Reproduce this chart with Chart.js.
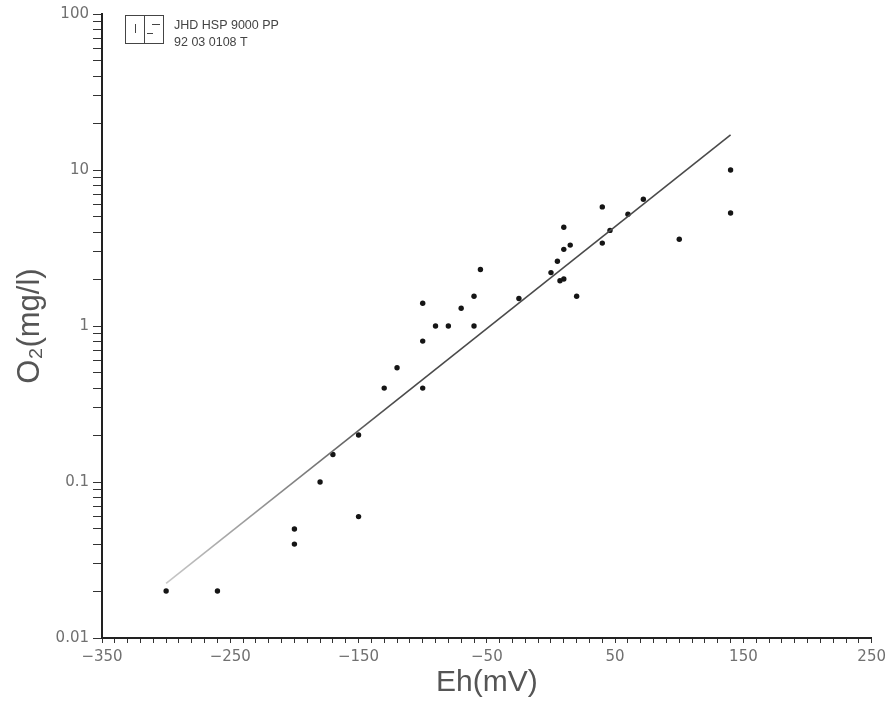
<!DOCTYPE html>
<html>
<head>
<meta charset="utf-8">
<title>O2 vs Eh</title>
<script src="https://cdn.jsdelivr.net/npm/chart.js@4.4.1/dist/chart.umd.min.js"></script>
<style>
  html, body { margin: 0; padding: 0; background: #fff; }
  #wrap { position: relative; width: 891px; height: 701px; }
</style>
</head>
<body>
<div id="wrap"><canvas id="o2Chart"></canvas></div>
<script>
// measured samples: redox potential (mV) and dissolved oxygen (mg/l)
const ehValues = [-300, -260, -200, -200, -180, -170, -150, -150, -130, -120,
                  -100, -100, -100, -90, -80, -70, -60, -60, -55, -25,
                  0, 5, 10, 15, 10, 7, 10, 20, 40, 40,
                  46, 60, 72, 100, 140, 140];
const o2Values = [0.02, 0.02, 0.05, 0.04, 0.1, 0.15, 0.2, 0.06, 0.4, 0.54,
                  0.4, 0.8, 1.4, 1.0, 1.0, 1.3, 1.55, 1.0, 2.3, 1.5,
                  2.2, 2.6, 3.1, 3.3, 4.3, 1.95, 2.0, 1.55, 5.8, 3.4,
                  4.1, 5.2, 6.5, 3.6, 10, 5.3];

// regression line end points
const fitEh = [-300, 140];
const fitO2 = [0.0224, 16.8];

const xTickLabels = [-350, -250, -150, -50, 50, 150, 250];
const yDecades = [0.01, 0.1, 1, 10, 100];

const labelColor = '#707070';
const axisColor = '#222';

// little stamp box in the top left corner
const stampPlugin = {
  id: 'stamp',
  afterDraw(chart) {
    const c = chart.ctx;
    c.save();
    c.strokeStyle = '#444';
    c.lineWidth = 1;
    c.strokeRect(125.5, 15.5, 38, 28);
    c.beginPath();
    c.moveTo(144.5, 15.5); c.lineTo(144.5, 43.5);
    c.moveTo(135.5, 24); c.lineTo(135.5, 33);
    c.moveTo(152, 24.5); c.lineTo(160, 24.5);
    c.moveTo(147, 33.5); c.lineTo(153, 33.5);
    c.stroke();
    c.fillStyle = '#444';
    c.font = '12.5px "Liberation Sans", Arial, sans-serif';
    c.textBaseline = 'alphabetic';
    c.fillText('JHD HSP 9000 PP', 174, 29);
    c.fillText('92 03 0108 T', 174, 46);
    c.restore();
  }
};

document.addEventListener('DOMContentLoaded', function() {
  const ctx = document.getElementById('o2Chart');

  const points = ehValues.map((eh, i) => ({ x: eh, y: o2Values[i] }));
  const fitLine = fitEh.map((eh, i) => ({ x: eh, y: fitO2[i] }));

  new Chart(ctx, {
    type: 'scatter',
    data: {
      datasets: [{
        label: 'fit',
        type: 'line',
        data: fitLine,
        pointRadius: 0,
        borderWidth: 1.6,
        borderColor: function(context) {
          const chart = context.chart;
          if (!chart.chartArea) return '#555';
          const xs = chart.scales.x;
          const g = chart.ctx.createLinearGradient(xs.getPixelForValue(fitEh[0]), 0, xs.getPixelForValue(-120), 0);
          g.addColorStop(0, '#c8c8c8');
          g.addColorStop(1, '#4a4a4a');
          return g;
        },
        fill: false,
        tension: 0
      }, {
        label: 'samples',
        data: points,
        pointStyle: 'circle',
        pointRadius: 2.7,
        pointBackgroundColor: '#151515',
        pointBorderWidth: 0
      }]
    },
    options: {
      responsive: true,
      maintainAspectRatio: false,
      animation: false,
      layout: { padding: { top: 14, right: 19, left: 0, bottom: 0 } },
      plugins: {
        legend: { display: false },
        tooltip: { enabled: false }
      },
      scales: {
        x: {
          type: 'linear',
          min: -350,
          max: 250,
          afterFit: function(scale) { scale.height = 63; },
          grid: { drawOnChartArea: false, tickLength: 5, tickColor: '#333', tickWidth: 1 },
          border: { color: axisColor, width: 2 },
          ticks: {
            stepSize: 10,
            autoSkip: false,
            maxRotation: 0,
            padding: 5,
            color: labelColor,
            font: { family: '"DejaVu Sans", sans-serif', size: 15 },
            callback: function(value) {
              return xTickLabels.includes(value) ? String(value).replace('-', '\u2212') : '';
            }
          },
          title: {
            display: true,
            text: 'Eh(mV)',
            color: '#555',
            padding: { top: 0, bottom: 0 },
            font: { family: '"Liberation Sans", Arial, sans-serif', size: 30 }
          }
        },
        y: {
          type: 'logarithmic',
          min: 0.01,
          max: 100,
          afterFit: function(scale) { scale.width = 102; },
          afterBuildTicks: function(scale) {
            const ticks = [];
            yDecades.forEach(function(d, i) {
              if (i === yDecades.length - 1) { ticks.push({ value: d }); return; }
              for (let m = 1; m <= 9; m++) ticks.push({ value: d * m });
            });
            scale.ticks = ticks;
          },
          grid: { drawOnChartArea: false, tickLength: 9, tickColor: '#333', tickWidth: 1 },
          border: { color: axisColor, width: 2 },
          ticks: {
            autoSkip: false,
            padding: 4,
            color: labelColor,
            font: { family: '"DejaVu Sans", sans-serif', size: 15 },
            callback: function(value) {
              return yDecades.includes(value) ? String(value) : '';
            }
          },
          title: {
            display: true,
            text: 'O\u2082(mg/l)',
            color: '#555',
            padding: { top: 12, bottom: 0 },
            font: { family: '"Liberation Sans", Arial, sans-serif', size: 31 }
          }
        }
      }
    },
    plugins: [stampPlugin]
  });
});
</script>
</body>
</html>
